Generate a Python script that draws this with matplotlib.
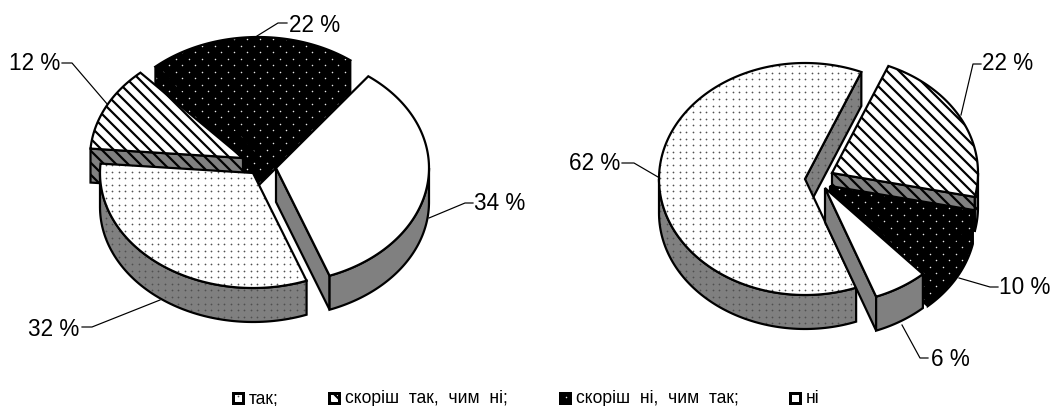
import numpy as np
import matplotlib
matplotlib.use("Agg")
import matplotlib.pyplot as plt
from matplotlib.patches import Polygon

# ---- data ----
categories = ["так;", "скоріш  так,  чим  ні;", "скоріш  ні,  чим  так;", "ні"]
left_values = [32, 12, 22, 34]
right_values = [62, 22, 10, 6]
left_labels = ["32 %", "12 %", "22 %", "34 %"]
right_labels = ["62 %", "22 %", "10 %", "6 %"]

# ---- layout (pixels) ----
W, H = 1051, 406
START = 69.5
DEPTH = 34
LEFT_PIE = dict(rx=153, ry=115, apex=[(253, 173), (243, 158), (258, 152), (276, 168)])
RIGHT_PIE = dict(rx=146, ry=116, apex=[(805, 179), (832, 173), (830, 186), (825, 188)])
LEFT_LEADERS = [
    [(160, 300), (92, 327), (82, 327)],
    [(108, 105), (72, 63), (62, 63)],
    [(257, 36), (278, 23), (287, 23)],
    [(429, 218), (465, 203), (473, 203)],
]
RIGHT_LEADERS = [
    [(658, 177), (634, 163), (622, 163)],
    [(961, 115), (973, 64), (981, 64)],
    [(959, 278), (990, 287), (998, 287)],
    [(902, 325), (920, 358), (928, 358)],
]
LEFT_TEXT = [(54, 329), (35, 63), (315, 25), (500, 203)]
RIGHT_TEXT = [(595, 163), (1008, 64), (1025, 287), (950, 359)]
LEGEND_BOX = [231, 327, 558, 788]
LEGEND_TEXT = [249, 345, 576, 806]

GRAY = "#808080"
plt.rcParams["font.family"] = ["Liberation Sans", "DejaVu Sans"]
plt.rcParams["hatch.linewidth"] = 2.2

fig = plt.figure(figsize=(W / 72, H / 72), dpi=72)
ax = fig.add_axes([0, 0, 1, 1])
ax.set_xlim(0, W)
ax.set_ylim(H, 0)
ax.axis("off")

DOT_GRID = np.array([(x, y) for y in np.arange(0, H, 6.6) for x in np.arange(0, W, 6.6)])
DARK_GRID = np.array([(x + (j % 2) * 6.5, y)
                      for j, y in enumerate(np.arange(0, H, 6.5))
                      for x in np.arange(0, W, 13.0)])


def texture(patch, kind, z):
    if kind == 0:
        coll = ax.scatter(DOT_GRID[:, 0], DOT_GRID[:, 1], s=3.0, c="#505050", linewidths=0, zorder=z)
    elif kind == 2:
        coll = ax.scatter(DARK_GRID[:, 0], DARK_GRID[:, 1], s=2.4, c="#e8e8e8", linewidths=0, zorder=z)
    else:
        return
    coll.set_clip_path(patch)


def shape(pts, kind, face, z, lw=2.2):
    base = Polygon(pts, closed=True, facecolor=face, edgecolor="none", lw=0, zorder=z)
    ax.add_patch(base)
    if kind == 1:
        ax.add_patch(Polygon(pts, closed=True, facecolor="none", edgecolor="black",
                             hatch="\\\\", lw=0, zorder=z + 0.1))
    texture(base, kind, z + 0.2)
    ax.add_patch(Polygon(pts, closed=True, facecolor="none", edgecolor="black", lw=lw,
                         joinstyle="miter", zorder=z + 0.3))


def draw_pie(values, pie, leaders, text_pos, labels):
    rx, ry = pie["rx"], pie["ry"]
    total = sum(values)
    angles = START + np.concatenate([[0], np.cumsum(values)]) * 360.0 / total
    mids = (angles[:-1] + angles[1:]) / 2
    order = np.argsort(np.sin(np.radians(mids)))
    z = 2
    for i in order:
        a0, a1 = angles[i], angles[i + 1]
        cx, cy = pie["apex"][i]
        side = "black" if i == 2 else GRAY

        def pt(t, dy=0):
            r = np.radians(t)
            return (cx + rx * np.cos(r), cy + ry * np.sin(r) + dy)

        # radial side walls facing the viewer
        if np.cos(np.radians(a0)) < 0:
            shape([(cx, cy), pt(a0), pt(a0, DEPTH), (cx, cy + DEPTH)], i, side, z)
            z += 1
        if np.cos(np.radians(a1)) > 0:
            shape([(cx, cy), pt(a1), pt(a1, DEPTH), (cx, cy + DEPTH)], i, side, z)
            z += 1
        # front part of the outer wall
        for k in (0, 1):
            lo, hi = max(a0, k * 360), min(a1, 180 + k * 360)
            if hi > lo:
                ts = np.linspace(lo, hi, 80)
                top = [pt(t) for t in ts]
                bot = [pt(t, DEPTH) for t in ts[::-1]]
                shape(top + bot, i, side, z)
                z += 1
        # top face
        ts = np.linspace(a0, a1, 160)
        shape([(cx, cy)] + [pt(t) for t in ts], i, "white" if i != 2 else "black", z)
        z += 1
    for line, pos, lab in zip(leaders, text_pos, labels):
        xs, ys = zip(*line)
        ax.plot(xs, ys, color="black", lw=1.2, zorder=1)
        ax.text(pos[0], pos[1], lab, fontsize=22.5, ha="center", va="center", color="black", zorder=100)


draw_pie(left_values, LEFT_PIE, LEFT_LEADERS, LEFT_TEXT, left_labels)
draw_pie(right_values, RIGHT_PIE, RIGHT_LEADERS, RIGHT_TEXT, right_labels)

for i, (bx, tx, name) in enumerate(zip(LEGEND_BOX, LEGEND_TEXT, categories)):
    pts = [(bx + 1.5, 392.5), (bx + 11.5, 392.5), (bx + 11.5, 402.5), (bx + 1.5, 402.5)]
    shape(pts, i, "black" if i == 2 else "white", 200, lw=3)
    ax.text(tx, 403, name, fontsize=17.5, ha="left", va="baseline", color="black", zorder=210)

fig.savefig("out.png", dpi=72)
